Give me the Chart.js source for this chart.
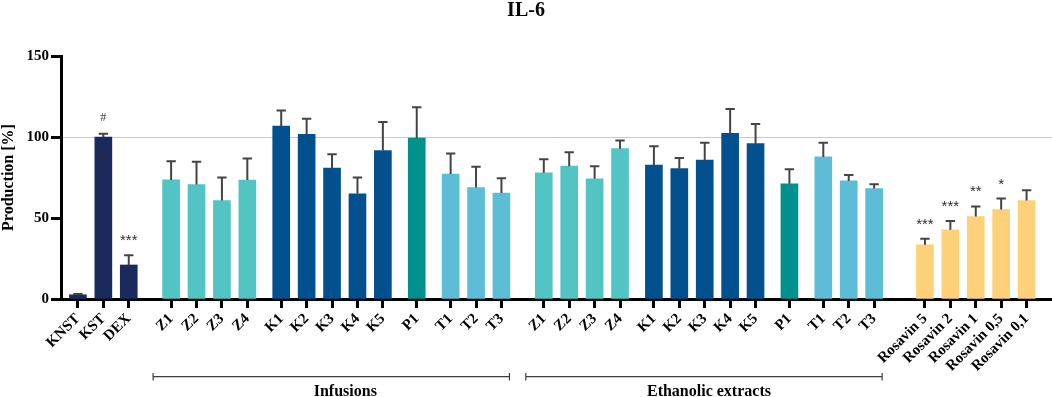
<!DOCTYPE html>
<html><head><meta charset="utf-8">
<script src="https://cdn.jsdelivr.net/npm/chart.js@4.4.1/dist/chart.umd.min.js"></script>
<style>html,body{margin:0;padding:0;background:#fff;}canvas{display:block;}</style>
</head><body>
<canvas id="c" width="1052" height="397"></canvas>
<script>
// ---- data ----
const categories = ['KNST','KST','DEX','Z1','Z2','Z3','Z4','K1','K2','K3','K4','K5','P1','T1','T2','T3',
  'Z1','Z2','Z3','Z4','K1','K2','K3','K4','K5','P1','T1','T2','T3',
  'Rosavin 5','Rosavin 2','Rosavin 1','Rosavin 0,5','Rosavin 0,1'];
const values = [2.6,100,21, 73.5,70.7,60.8,73.4, 106.7,101.7,80.8,64.9,91.6, 99.3, 77.1,68.8,65.4,
  77.9,82.0,74.2,92.8, 82.6,80.5,85.7,102.3,95.9, 71.1, 87.7,72.9,68.2,
  33.5,42.7,50.9,55.2,60.8];
const errors = [0.5,2,6, 11.5,14,14.2,13.3, 9.6,9.5,8.6,10.1,17.7, 19.1, 12.7,12.8,9.2,
  8.4,8.6,7.8,5.0, 11.7,6.6,10.8,15.0,12.2, 9.0, 8.8,3.7,2.7,
  3.7,5.4,6.2,6.8,6.4];
const kinds = ['control','control','control','Z','Z','Z','Z','K','K','K','K','K','P','T','T','T',
  'Z','Z','Z','Z','K','K','K','K','K','P','T','T','T',
  'Rosavin','Rosavin','Rosavin','Rosavin','Rosavin'];
const marksAbove = ['','#','***','','','','','','','','','','','','','',
  '','','','','','','','','','','','','',
  '***','***','**','*',''];
const marksInside = ['','#','','','','','','','','','','','','','','',
  '','','','','','','','','','','','','',
  '','','','',''];
const groupNames = ['Infusions','Ethanolic extracts'];
const groupFirst = [3,16];
const groupLast = [15,28];
const yTicks = [0,50,100,150];

// ---- styles / layout ----
const kindColors = {control:'#1b2a5c', Z:'#53c4c4', K:'#03508f', P:'#00918f', T:'#5dbcd6', Rosavin:'#fdd17a'};
const STEP = 3, LEAD = 2, TRAIL = 3;
const GAP = {3:5, 7:4, 12:4, 13:4, 16:5, 20:4, 25:4, 26:4, 29:6};
const GROUP_TEXT_SHIFT = [9, 0];

const axisLabels = [], axisData = [], axisColor = [], axisIndex = [], catPos = [];
function pushSpacer(){ axisLabels.push(''); axisData.push(null); axisColor.push('rgba(0,0,0,0)'); axisIndex.push(-1); }
for (let k = 0; k < LEAD; k++) pushSpacer();
categories.forEach((c, i) => {
  if (i > 0) { const s = GAP[i] || STEP; for (let k = 0; k < s - 1; k++) pushSpacer(); }
  catPos.push(axisLabels.length);
  axisLabels.push(c); axisData.push(values[i]); axisColor.push(kindColors[kinds[i]]); axisIndex.push(i);
});
for (let k = 0; k < TRAIL; k++) pushSpacer();

const SERIF = "'Liberation Serif', 'Times New Roman', serif";

const errorBars = {
  id: 'errorBars',
  afterDatasetsDraw(chart) {
    const meta = chart.getDatasetMeta(0), y = chart.scales.y, ctx = chart.ctx;
    ctx.save();
    meta.data.forEach((el, j) => {
      const i = axisIndex[j]; if (i < 0) return;
      const top = y.getPixelForValue(values[i] + errors[i]);
      ctx.strokeStyle = '#444'; ctx.lineWidth = 2;
      ctx.beginPath();
      ctx.moveTo(el.x, el.y); ctx.lineTo(el.x, top);
      ctx.moveTo(el.x - 4.7, top); ctx.lineTo(el.x + 4.7, top);
      ctx.stroke();
      ctx.textAlign = 'center'; ctx.textBaseline = 'alphabetic';
      if (marksAbove[i]) {
        const m = marksAbove[i];
        if (m.indexOf('#') >= 0) { ctx.font = '12px ' + SERIF; ctx.fillStyle = '#444'; ctx.fillText(m, el.x, top - 13); }
        else { ctx.font = "15px 'Liberation Sans', Arial, sans-serif"; ctx.fillStyle = '#2e2e2e'; ctx.fillText(m, el.x, top - 10); }
      }
      if (marksInside[i]) {
        ctx.font = '12px ' + SERIF; ctx.fillStyle = '#2a2a2a';
        ctx.fillText(marksInside[i], el.x, el.y + 22);
      }
    });
    ctx.restore();
  },
  afterDraw(chart) {
    const x = chart.scales.x, ctx = chart.ctx;
    ctx.save();
    ctx.strokeStyle = '#3c3c3c'; ctx.lineWidth = 1.2; ctx.fillStyle = '#000';
    groupNames.forEach((name, g) => {
      const p1 = x.getPixelForValue(catPos[groupFirst[g]]);
      const p2 = x.getPixelForValue(catPos[groupLast[g]]);
      const a = p1 - 18, b = p2 + 8, yy = 376.7;
      ctx.beginPath();
      ctx.moveTo(a, yy); ctx.lineTo(b, yy);
      ctx.moveTo(a, yy - 3.7); ctx.lineTo(a, yy + 3.7);
      ctx.moveTo(b, yy - 3.7); ctx.lineTo(b, yy + 3.7);
      ctx.stroke();
      ctx.font = 'bold 16px ' + SERIF; ctx.textAlign = 'center'; ctx.textBaseline = 'alphabetic';
      ctx.fillText(name, (p1 + p2) / 2 + GROUP_TEXT_SHIFT[g], 396);
    });
    ctx.restore();
  }
};

new Chart(document.getElementById('c'), {
  type: 'bar',
  data: {
    labels: axisLabels,
    datasets: [{ data: axisData, backgroundColor: axisColor, borderWidth: 0, barThickness: 17 }]
  },
  options: {
    responsive: false, animation: false, devicePixelRatio: 1,
    layout: { padding: { left: 0, right: 0, top: 0, bottom: 0 } },
    plugins: {
      legend: { display: false }, tooltip: { enabled: false },
      title: { display: true, text: 'IL-6', color: '#000',
        font: { family: SERIF, weight: 'bold', size: 20, lineHeight: 1.05 },
        padding: { top: 0, bottom: 35 } }
    },
    scales: {
      x: {
        offset: false,
        grid: { offset: false, drawOnChartArea: false, drawTicks: true, tickLength: 9, tickWidth: 3,
          tickColor: (c) => (axisLabels[c.index] ? '#000' : 'rgba(0,0,0,0)') },
        border: { display: true, color: '#000', width: 3 },
        ticks: { autoSkip: false, minRotation: 45, maxRotation: 45, padding: 2, color: '#000',
          font: { family: SERIF, weight: 'bold', size: 15 } },
        afterFit(s) { s.height = 98; s.paddingLeft = 0; s.paddingRight = 0; }
      },
      y: {
        min: 0, max: 150,
        afterBuildTicks(s) { s.ticks = yTicks.map(v => ({ value: v })); },
        grid: { drawTicks: true, tickLength: 10, tickWidth: 3, tickColor: '#000', lineWidth: 1,
          color: (c) => (c.tick && c.tick.value === 100 ? '#c8c8c8' : 'rgba(0,0,0,0)') },
        border: { display: true, color: '#000', width: 3 },
        ticks: { padding: 2, color: '#000', font: { family: SERIF, weight: 'bold', size: 15 } },
        title: { display: true, text: 'Production [%]', color: '#000', padding: { top: 1, bottom: 0 },
          font: { family: SERIF, weight: 'bold', size: 16, lineHeight: 0.95 } },
        afterFit(s) { s.width = 61; }
      }
    }
  },
  plugins: [errorBars]
});
</script>
</body></html>
